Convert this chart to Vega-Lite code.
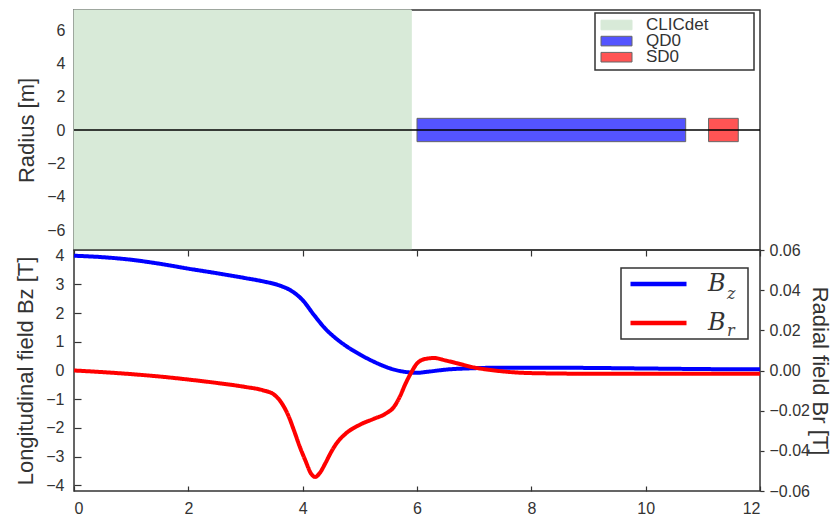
{
  "$schema": "https://vega.github.io/schema/vega-lite/v6.json",
  "background": "white",
  "padding": {"left": 14, "top": 8, "right": 0, "bottom": 0},
  "spacing": 0,
  "bounds": "flush",
  "config": {
    "font": "Liberation Sans",
    "view": {"stroke": "#333333", "strokeWidth": 1.5},
    "axis": {
      "grid": false,
      "domain": false,
      "labelOverlap": false,
      "labelFont": "Liberation Sans",
      "labelFontSize": 16,
      "labelColor": "#333333",
      "titleFont": "Liberation Sans",
      "titleFontSize": 22,
      "titleFontWeight": "normal",
      "titleColor": "#333333",
      "tickColor": "#333333",
      "tickWidth": 1.2
    },
    "legend": {"strokeWidth": 1.5, "labelLimit": 400}
  },
  "datasets": {
    "elements": [
      {"name": "CLICdet", "z0": 0, "z1": 5.9, "r0": -7.2, "r1": 7.2},
      {"name": "QD0", "z0": 6.0, "z1": 10.7, "r0": -0.7, "r1": 0.7},
      {"name": "SD0", "z0": 11.1, "z1": 11.62, "r0": -0.7, "r1": 0.7}
    ],
    "bz": [
      {"s": 0, "B": 4.0}, {"s": 0.5, "B": 3.95}, {"s": 1, "B": 3.86}, {"s": 1.5, "B": 3.72},
      {"s": 2, "B": 3.55}, {"s": 2.5, "B": 3.39}, {"s": 3, "B": 3.22}, {"s": 3.3, "B": 3.11},
      {"s": 3.6, "B": 2.96}, {"s": 3.8, "B": 2.78}, {"s": 4.0, "B": 2.45}, {"s": 4.2, "B": 1.93},
      {"s": 4.4, "B": 1.45}, {"s": 4.6, "B": 1.09}, {"s": 4.8, "B": 0.8}, {"s": 5.0, "B": 0.56},
      {"s": 5.2, "B": 0.35}, {"s": 5.4, "B": 0.17}, {"s": 5.6, "B": 0.03}, {"s": 5.8, "B": -0.05},
      {"s": 6.0, "B": -0.08}, {"s": 6.2, "B": -0.04}, {"s": 6.5, "B": 0.03}, {"s": 7.0, "B": 0.08},
      {"s": 7.5, "B": 0.1}, {"s": 8.0, "B": 0.1}, {"s": 9.0, "B": 0.09}, {"s": 10.0, "B": 0.07},
      {"s": 11.0, "B": 0.05}, {"s": 12.0, "B": 0.04}
    ],
    "br": [
      {"s": 0, "B": 0.0}, {"s": 0.5, "B": -0.0008}, {"s": 1.0, "B": -0.0018}, {"s": 1.5, "B": -0.003},
      {"s": 2.0, "B": -0.0045}, {"s": 2.5, "B": -0.0062}, {"s": 3.0, "B": -0.0082}, {"s": 3.3, "B": -0.0098},
      {"s": 3.5, "B": -0.012}, {"s": 3.65, "B": -0.017}, {"s": 3.75, "B": -0.0225}, {"s": 3.85, "B": -0.03},
      {"s": 3.95, "B": -0.038}, {"s": 4.05, "B": -0.045}, {"s": 4.15, "B": -0.0515}, {"s": 4.22, "B": -0.053},
      {"s": 4.3, "B": -0.051}, {"s": 4.4, "B": -0.046}, {"s": 4.5, "B": -0.0405}, {"s": 4.6, "B": -0.036},
      {"s": 4.75, "B": -0.0315}, {"s": 5.0, "B": -0.027}, {"s": 5.25, "B": -0.024}, {"s": 5.45, "B": -0.0215},
      {"s": 5.6, "B": -0.018}, {"s": 5.7, "B": -0.013}, {"s": 5.8, "B": -0.0065}, {"s": 5.9, "B": -0.001},
      {"s": 6.0, "B": 0.0035}, {"s": 6.15, "B": 0.0058}, {"s": 6.3, "B": 0.0062}, {"s": 6.5, "B": 0.005},
      {"s": 6.7, "B": 0.0036}, {"s": 7.0, "B": 0.0015}, {"s": 7.3, "B": 0.0002}, {"s": 7.6, "B": -0.0007},
      {"s": 8.0, "B": -0.0013}, {"s": 9.0, "B": -0.0016}, {"s": 10.0, "B": -0.0016}, {"s": 12.0, "B": -0.0016}
    ]
  },
  "vconcat": [
    {
      "width": 686,
      "height": 240,
      "layer": [
        {
          "data": {"name": "elements"},
          "mark": {"type": "rect", "strokeWidth": 1},
          "encoding": {
            "x": {"field": "z0", "type": "quantitative", "scale": {"domain": [0, 12], "nice": false}, "axis": null},
            "x2": {"field": "z1"},
            "y": {
              "field": "r0", "type": "quantitative",
              "scale": {"domain": [-7.2, 7.2], "nice": false},
              "axis": {"title": "Radius [m]", "values": [-6, -4, -2, 0, 2, 4, 6], "labelOverlap": false, "ticks": false, "labelPadding": 9, "titlePadding": 8}
            },
            "y2": {"field": "r1"},
            "fill": {
              "field": "name", "type": "nominal",
              "scale": {"domain": ["CLICdet", "QD0", "SD0"], "range": ["#d8ead8", "#5454ff", "#ff5454"]},
              "legend": {
                "orient": "none", "legendX": 521, "legendY": 3, "title": null, "direction": "vertical",
                "padding": 4, "strokeColor": "#333333", "fillColor": "white", "cornerRadius": 0,
                "symbolType": "M-1,-0.31L1,-0.31L1,0.31L-1,0.31Z", "symbolSize": 961, "symbolStrokeWidth": 1,
                "symbolOffset": 1.5, "labelOffset": 13.5, "clipHeight": 16, "rowPadding": -0.9,
                "labelFont": "Liberation Sans", "labelFontSize": 17, "labelColor": "#333333",
                "labelExpr": "datum.label + ' \u2800\u2800\u2800'"
              }
            },
            "stroke": {
              "field": "name", "type": "nominal",
              "scale": {"domain": ["CLICdet", "QD0", "SD0"], "range": ["#d8ead8", "#666666", "#666666"]},
              "legend": {
                "orient": "none", "legendX": 521, "legendY": 3, "title": null, "direction": "vertical",
                "padding": 4, "strokeColor": "#333333", "fillColor": "white", "cornerRadius": 0,
                "symbolType": "M-1,-0.31L1,-0.31L1,0.31L-1,0.31Z", "symbolSize": 961, "symbolStrokeWidth": 1,
                "symbolOffset": 1.5, "labelOffset": 13.5, "clipHeight": 16, "rowPadding": -0.9,
                "labelFont": "Liberation Sans", "labelFontSize": 17, "labelColor": "#333333",
                "labelExpr": "datum.label + ' \u2800\u2800\u2800'"
              }
            }
          }
        },
        {
          "data": {"values": [{"r": 0}]},
          "mark": {"type": "rule", "color": "black", "strokeWidth": 1.3},
          "encoding": {
            "y": {
              "field": "r", "type": "quantitative",
              "axis": {"title": "Radius [m]", "values": [-6, -4, -2, 0, 2, 4, 6], "labelOverlap": false, "ticks": false, "labelPadding": 9, "titlePadding": 8}
            }
          }
        }
      ]
    },
    {
      "width": 686,
      "height": 241,
      "layer": [
        {
          "data": {"name": "bz"},
          "mark": {"type": "line", "strokeWidth": 4, "interpolate": "monotone"},
          "encoding": {
            "x": {
              "field": "s", "type": "quantitative", "scale": {"domain": [0, 12], "nice": false},
              "axis": {"orient": "bottom", "title": null, "values": [0, 2, 4, 6, 8, 10, 12], "tickSize": -5, "labelPadding": 14}
            },
            "y": {
              "field": "B", "type": "quantitative", "scale": {"domain": [-4.2, 4.2], "nice": false},
              "axis": {"orient": "left", "title": "Longitudinal field Bz [T]", "values": [-4, -3, -2, -1, 0, 1, 2, 3, 4], "tickSize": -7, "labelPadding": 17, "titlePadding": 8}
            },
            "stroke": {
              "datum": "Bz", "type": "nominal",
              "scale": {"domain": ["Bz", "Br"], "range": ["#0000ff", "#ff0000"]},
              "legend": {
                "orient": "none", "legendX": 547, "legendY": 18, "title": null, "direction": "vertical",
                "padding": 4, "strokeColor": "#333333", "fillColor": "white", "cornerRadius": 0,
                "symbolType": "stroke", "symbolSize": 3136, "symbolStrokeWidth": 4.5,
                "symbolOffset": 3, "labelOffset": 19, "clipHeight": 24, "rowPadding": 15,
                "labelFont": "DejaVu Serif", "labelFontStyle": "italic", "labelFontSize": 24, "labelColor": "#333333",
                "labelExpr": "'B\u2800'"
              }
            },
            "strokeDash": {
              "datum": "z", "type": "nominal",
              "scale": {"domain": ["z", "r"], "range": [[1, 0], [1, 0]]},
              "legend": {
                "orient": "none", "legendX": 637, "legendY": 32, "title": null, "direction": "vertical",
                "padding": 0, "symbolSize": 1, "symbolOpacity": 0, "symbolStrokeWidth": 0,
                "labelOffset": 0, "clipHeight": 24, "rowPadding": 13,
                "labelFont": "DejaVu Serif", "labelFontStyle": "italic", "labelFontSize": 16, "labelColor": "#444444"
              }
            }
          }
        },
        {
          "data": {"name": "br"},
          "mark": {"type": "line", "strokeWidth": 4, "interpolate": "monotone"},
          "encoding": {
            "x": {
              "field": "s", "type": "quantitative", "scale": {"domain": [0, 12], "nice": false},
              "axis": {"orient": "top", "title": null, "labels": false, "values": [0, 2, 4, 6, 8, 10, 12], "tickSize": -6}
            },
            "y": {
              "field": "B", "type": "quantitative", "scale": {"domain": [-0.06, 0.06], "nice": false},
              "axis": {"orient": "right", "title": "Radial field Br [T]", "values": [-0.06, -0.04, -0.02, 0, 0.02, 0.04, 0.06], "format": ".2f", "tickSize": 4, "labelPadding": 5, "titlePadding": -2}
            },
            "stroke": {"datum": "Br", "type": "nominal"},
            "strokeDash": {"datum": "r", "type": "nominal"}
          }
        }
      ],
      "resolve": {"scale": {"y": "independent"}, "axis": {"x": "independent"}}
    }
  ],
  "resolve": {
    "scale": {"fill": "independent", "stroke": "independent", "strokeDash": "independent"},
    "legend": {"fill": "independent", "stroke": "independent", "strokeDash": "independent"}
  }
}
